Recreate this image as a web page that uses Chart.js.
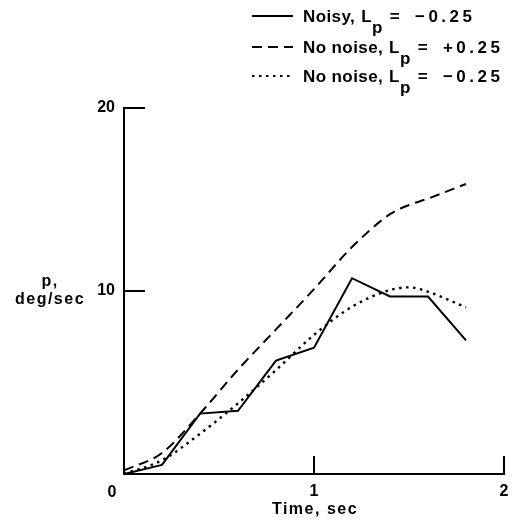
<!DOCTYPE html>
<html>
<head>
<meta charset="utf-8">
<script src="https://cdn.jsdelivr.net/npm/chart.js@4"></script>
<style>
  body { margin: 0; background: #fff; }
  #wrap { width: 517px; height: 528px; }
</style>
</head>
<body>
<div id="wrap"><canvas id="rollChart" width="517" height="528"></canvas></div>
<script>
// Time axis samples (sec)
const timeNoisy = [0, 0.2, 0.4, 0.6, 0.8, 1.0, 1.2, 1.4, 1.6, 1.8];
const timeSmooth = [0, 0.2, 0.4, 0.6, 0.8, 1.0, 1.2, 1.4, 1.5, 1.6, 1.8];

// Roll rate p (deg/sec)
const pNoisy = [0, 0.5, 3.3, 3.45, 6.2, 6.9, 10.7, 9.7, 9.7, 7.3];
const pNoNoisePlus = [0.2, 1.15, 3.3, 5.7, 7.9, 10.1, 12.4, 14.2, 14.7, 15.05, 15.85];
const pNoNoiseMinus = [0, 0.75, 2.2, 3.86, 5.68, 7.6, 9.14, 10.05, 10.2, 9.96, 9.1];

// Legend text
const seriesNames = ['Noisy,', 'No noise,', 'No noise,'];
const lpSigns = ['\u2212', '+', '\u2212'];
const lpValues = ['0.25', '0.25', '0.25'];

// Ticks
const xTicks = [0, 1, 2];
const yTicks = [10, 20];

const FONT = "'Liberation Sans', Arial, sans-serif";

function toPoints(xs, ys) {
  return xs.map((x, i) => ({ x: x, y: ys[i] }));
}

function setSpacing(ctx, px) {
  if ('letterSpacing' in ctx) ctx.letterSpacing = px + 'px';
}

// Draws inward tick marks, axis titles and the legend
const decorPlugin = {
  id: 'decor',
  afterDraw(chart) {
    const ctx = chart.ctx;
    const xs = chart.scales.x;
    const ys = chart.scales.y;
    const area = chart.chartArea;

    ctx.save();
    ctx.strokeStyle = '#000';
    ctx.lineWidth = 2;
    ctx.setLineDash([]);
    // inward ticks
    yTicks.forEach((v) => {
      const py = ys.getPixelForValue(v);
      ctx.beginPath();
      ctx.moveTo(area.left, py);
      ctx.lineTo(area.left + 21, py);
      ctx.stroke();
    });
    xTicks.slice(1).forEach((v) => {
      const px = xs.getPixelForValue(v);
      ctx.beginPath();
      ctx.moveTo(px, area.bottom);
      ctx.lineTo(px, area.bottom - 18);
      ctx.stroke();
    });

    ctx.fillStyle = '#000';
    ctx.font = 'bold 16px ' + FONT;
    ctx.textAlign = 'center';
    ctx.textBaseline = 'alphabetic';
    ctx.fillText('0', xs.getPixelForValue(0) - 12, 497);

    // axis titles
    setSpacing(ctx, 1.5);
    ctx.fillText('p,', 50, 286);
    ctx.fillText('deg/sec', 50, 304);
    ctx.fillText('Time, sec', 315, 514);
    setSpacing(ctx, 0);

    // legend
    ctx.textAlign = 'left';
    const baseY = [22, 53, 82];
    chart.data.datasets.forEach((ds, i) => {
      const base = baseY[i];
      const lineY = base - 6;
      ctx.strokeStyle = '#000';
      ctx.lineWidth = 2;
      ctx.setLineDash(ds.borderDash || []);
      ctx.beginPath();
      ctx.moveTo(252, lineY);
      ctx.lineTo(293, lineY);
      ctx.stroke();
      ctx.setLineDash([]);

      ctx.font = 'bold 17px ' + FONT;
      setSpacing(ctx, 0.4);
      let x = 303;
      ctx.fillText(seriesNames[i], x, base);
      x += ctx.measureText(seriesNames[i]).width + 6;
      ctx.fillText('L', x, base);
      x += ctx.measureText('L').width;
      ctx.fillText('p', x, base + 11);
      x += ctx.measureText('p').width + 7;
      ctx.fillText('=', x, base);
      x += ctx.measureText('=').width + 15;
      ctx.fillText(lpSigns[i], x, base);
      x += ctx.measureText(lpSigns[i]).width + 3;
      setSpacing(ctx, 3.5);
      ctx.fillText(lpValues[i], x, base);
      setSpacing(ctx, 0);
    });
    ctx.restore();
  },
};

function createChart() {
  const canvasElement = document.getElementById('rollChart');
  const chartContext = canvasElement.getContext('2d');

  /* global Chart */
  const chart = new Chart(chartContext, {
    type: 'line',
    data: {
      datasets: [
        {
          label: 'Noisy, Lp = -0.25',
          data: toPoints(timeNoisy, pNoisy),
          borderColor: '#000',
          borderWidth: 2,
          borderDash: [],
          tension: 0,
        },
        {
          label: 'No noise, Lp = +0.25',
          data: toPoints(timeSmooth, pNoNoisePlus),
          borderColor: '#000',
          borderWidth: 2,
          borderDash: [10, 6],
          cubicInterpolationMode: 'monotone',
        },
        {
          label: 'No noise, Lp = -0.25',
          data: toPoints(timeSmooth, pNoNoiseMinus),
          borderColor: '#000',
          borderWidth: 2.4,
          borderDash: [2.5, 4.5],
          cubicInterpolationMode: 'monotone',
        },
      ],
    },
    options: {
      responsive: false,
      animation: false,
      elements: { point: { radius: 0 } },
      layout: { padding: { top: 108, right: 13, left: 0, bottom: 0 } },
      plugins: {
        legend: { display: false },
        tooltip: { enabled: false },
      },
      scales: {
        x: {
          type: 'linear',
          min: 0,
          max: 2,
          afterFit(scale) { scale.height = 54; },
          afterBuildTicks(scale) { scale.ticks = xTicks.map((v) => ({ value: v })); },
          grid: { display: false, drawTicks: false },
          border: { display: true, color: '#000', width: 2 },
          ticks: {
            padding: 8,
            color: '#000',
            font: { family: FONT, size: 16, weight: 'bold' },
            callback: (v) => (v === 0 ? '' : String(v)),
          },
        },
        y: {
          min: 0,
          max: 20,
          afterFit(scale) { scale.width = 124; },
          afterBuildTicks(scale) { scale.ticks = yTicks.map((v) => ({ value: v })); },
          grid: { display: false, drawTicks: false },
          border: { display: true, color: '#000', width: 2 },
          ticks: {
            padding: 9,
            color: '#000',
            font: { family: FONT, size: 16, weight: 'bold' },
          },
        },
      },
    },
    plugins: [decorPlugin],
  });

  return chart;
}

document.addEventListener('DOMContentLoaded', createChart);
</script>
</body>
</html>
